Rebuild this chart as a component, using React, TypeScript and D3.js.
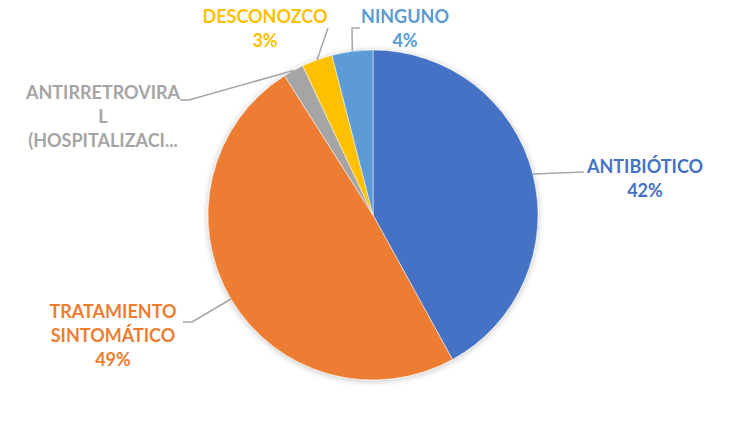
import * as React from 'react'
import * as d3 from 'd3'

const width = 745
const height = 429
const cx = 373
const cy = 215
const radius = 165

const categories = ['ANTIBIÓTICO', 'TRATAMIENTO SINTOMÁTICO', 'ANTIRRETROVIRAL (HOSPITALIZACIÓN)', 'DESCONOZCO', 'NINGUNO']
const values = [42, 49, 2, 3, 4]
const colors = ['#4472C4', '#ED7D31', '#A5A5A5', '#FFC000', '#5B9BD5']

// label text lines as shown (Excel wraps / truncates)
const labelLines = [
  ['ANTIBIÓTICO', '42%'],
  ['TRATAMIENTO', 'SINTOMÁTICO', '49%'],
  ['ANTIRRETROVIRA', 'L', '(HOSPITALIZACI...'],
  ['DESCONOZCO', '3%'],
  ['NINGUNO', '4%'],
]
// label layout: text center x, first baseline y, leader elbow end
const labelLayout = [
  { x: 645, y: 173, lx: 584, ly: 172 },
  { x: 113, y: 318, lx: 183, ly: 322 },
  { x: 103, y: 99, lx: 180, ly: 100 },
  { x: 265, y: 23, lx: 328, ly: 28 },
  { x: 405, y: 23, lx: 360, ly: 28 },
]

const App = () => {
  const pie = d3.pie<number>().sort(null).value(d => d)
  const arcs = pie(values)
  const arc = d3.arc<d3.PieArcDatum<number>>().innerRadius(0).outerRadius(radius)

  return (
    <div style={{ position: 'absolute', left: 0, top: 0 }}>
      <svg width={width} height={height} style={{ display: 'block', background: '#fff' }}>
        <defs>
          <filter id="shadow" x="-20%" y="-20%" width="140%" height="140%">
            <feDropShadow dx="0" dy="1" stdDeviation="3" floodColor="#000" floodOpacity="0.25" />
          </filter>
        </defs>
        <g transform={`translate(${cx},${cy})`} filter="url(#shadow)">
          {arcs.map((a, i) => (
            <path key={categories[i]} d={arc(a) || ''} fill={colors[i]} stroke="#fff" strokeWidth={0.5} />
          ))}
        </g>
        {arcs.map((a, i) => {
          const mid = (a.startAngle + a.endAngle) / 2
          const px = cx + radius * Math.sin(mid)
          const py = cy - radius * Math.cos(mid)
          const L = labelLayout[i]
          let pts: [number, number][]
          if (i === 4) pts = [[L.lx, L.ly], [L.lx - 8, L.ly], [px, py]]
          else if (i === 3 || i === 0) pts = [[L.lx, L.ly], [px, py]]
          else pts = [[L.lx, L.ly], [L.lx + 9, L.ly], [px, py]]
          return (
            <path
              key={'l' + i}
              d={d3.line()(pts) || ''}
              fill="none"
              stroke="#A6A6A6"
              strokeWidth={1.5}
            />
          )
        })}
        {labelLines.map((lines, i) => (
          <text
            key={'t' + i}
            x={labelLayout[i].x}
            y={labelLayout[i].y}
            textAnchor="middle"
            fill={colors[i]}
            fontFamily="Lato, 'Open Sans', sans-serif"
            fontWeight="bold"
            fontSize={18}
          >
            {lines.map((ln, j) => (
              <tspan key={j} x={labelLayout[i].x} dy={j === 0 ? 0 : 24}>
                {ln}
              </tspan>
            ))}
          </text>
        ))}
      </svg>
    </div>
  )
}

export default App
